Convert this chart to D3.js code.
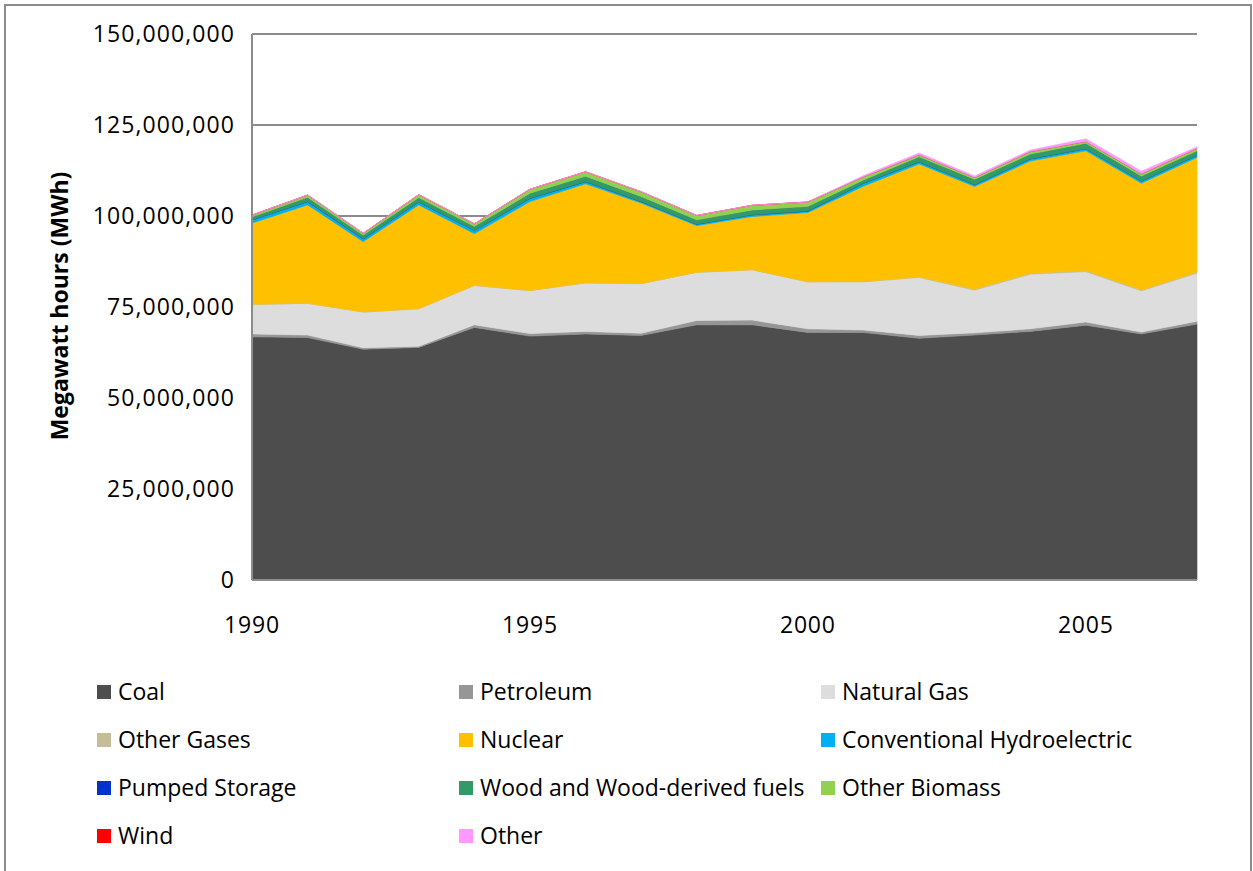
<!DOCTYPE html>
<html>
<head>
<meta charset="utf-8">
<script src="https://cdn.jsdelivr.net/npm/d3@7"></script>
<style>
  html, body { margin: 0; padding: 0; background: #fff; }
  svg { display: block; }
  text { font-family: "Open Sans", "Noto Sans", sans-serif; fill: #000; }
</style>
</head>
<body>
<svg id="chart" width="1253" height="871"></svg>
<script>
// ---- Data (million MWh) ----
const years = [1990,1991,1992,1993,1994,1995,1996,1997,1998,1999,2000,2001,2002,2003,2004,2005,2006,2007];
const coal        = [66.8,66.6,63.4,63.9,69.4,67.0,67.6,67.2,70.1,70.1,68.0,68.0,66.4,67.3,68.3,70.0,67.6,70.3];
const petroleum   = [0.8,0.7,0.4,0.3,0.7,0.7,0.7,0.6,1.2,1.3,1.0,0.7,0.8,0.6,0.7,0.9,0.5,0.8];
const naturalGas  = [8.1,8.7,9.8,10.3,10.8,11.8,13.3,13.6,13.2,13.8,12.9,13.2,15.9,11.7,15.0,13.8,11.3,13.2];
const otherGases  = [0.05,0.05,0.05,0.05,0.05,0.05,0.05,0.05,0.05,0.05,0.05,0.1,0.2,0.3,0.3,0.3,0.3,0.3];
const nuclear     = [22.3,27.0,19.3,28.5,14.2,24.4,27.2,22.1,12.8,14.6,19.0,26.2,31.0,28.2,30.8,32.9,29.3,31.5];
const hydro       = [0.9,0.9,0.8,0.8,0.9,0.9,0.6,0.4,0.4,0.5,0.4,0.8,0.6,0.5,0.6,0.6,0.6,0.6];
const pumped      = [0,0,0,0,0,0,0,0,0,0,0,0,0,0,0,0,0,0];
const wood        = [0.8,1.2,1.0,1.2,1.1,1.4,1.5,1.4,1.2,1.3,1.3,0.9,1.4,1.5,1.3,1.5,1.4,1.2];
const biomass     = [0.5,0.6,0.5,0.8,0.7,1.1,1.2,1.3,1.2,1.3,1.2,0.9,0.5,0.5,0.7,0.5,0.6,0.7];
const wind        = [0,0,0,0,0,0,0,0,0,0,0,0,0,0,0,0,0,0.02];
const other       = [0,0,0,0,0,0,0,0,0,0,0,0.3,0.5,0.4,0.4,0.7,0.7,0.4];

const seriesNames = ["Coal","Petroleum","Natural Gas","Other Gases","Nuclear","Conventional Hydroelectric","Pumped Storage","Wood and Wood-derived fuels","Other Biomass","Wind","Other"];
const seriesValues = [coal,petroleum,naturalGas,otherGases,nuclear,hydro,pumped,wood,biomass,wind,other];
const seriesColors = ["#4d4d4d","#969696","#dddddd","#c4bd97","#ffc000","#00b0f0","#0033cc","#339966","#92d050","#ff0000","#ff99ff"];
const yTicks = [0,25000000,50000000,75000000,100000000,125000000,150000000];
const xTicks = [1990,1995,2000,2005];
const yTitle = "Megawatt hours (MWh)";

// ---- Build table ----
const table = years.map((yr, i) => {
  const row = { year: yr };
  seriesNames.forEach((n, k) => { row[n] = seriesValues[k][i] * 1e6; });
  return row;
});

const svg = d3.select("#chart");
const M = { left: 252, right: 1197, top: 34, bottom: 580 };

const x = d3.scaleLinear().domain([1990, 2007]).range([M.left, M.right]);
const y = d3.scaleLinear().domain([0, 150000000]).range([M.bottom, M.top]);

// outer border
svg.append("rect").attr("x", 5).attr("y", 5).attr("width", 1246).attr("height", 900)
  .attr("fill", "none").attr("stroke", "#8c8c8c").attr("stroke-width", 2);

// gridlines
svg.append("g").selectAll("line").data(yTicks.filter(d => d > 0)).join("line")
  .attr("x1", M.left).attr("x2", M.right)
  .attr("y1", d => y(d)).attr("y2", d => y(d))
  .attr("stroke", "#8c8c8c").attr("stroke-width", 2);

// stacked areas
const stack = d3.stack().keys(seriesNames);
const layers = stack(table);
const area = d3.area()
  .x(d => x(d.data.year))
  .y0(d => y(d[0]))
  .y1(d => y(d[1]));

svg.append("g").selectAll("path").data(layers).join("path")
  .attr("d", area)
  .attr("fill", (d, i) => seriesColors[i])
  .attr("stroke", (d, i) => seriesColors[i])
  .attr("stroke-width", 0.6);

// axes lines
svg.append("line").attr("x1", M.left).attr("x2", M.left).attr("y1", M.top).attr("y2", M.bottom)
  .attr("stroke", "#8c8c8c").attr("stroke-width", 2);
svg.append("line").attr("x1", M.left).attr("x2", M.right).attr("y1", M.bottom).attr("y2", M.bottom)
  .attr("stroke", "#8c8c8c").attr("stroke-width", 2);

// y axis labels
const fmt = d3.format(",");
svg.append("g").selectAll("text").data(yTicks).join("text")
  .attr("x", 235).attr("y", d => y(d)).attr("dy", "0.35em")
  .attr("text-anchor", "end")
  .attr("font-size", 23).attr("letter-spacing", 1.1)
  .text(d => fmt(d));

// x axis labels
svg.append("g").selectAll("text").data(xTicks).join("text")
  .attr("x", d => x(d)).attr("y", 625).attr("dy", "0.35em")
  .attr("text-anchor", "middle")
  .attr("font-size", 23).attr("letter-spacing", 0.8)
  .text(d => d);

// y title
svg.append("text")
  .attr("transform", "translate(60,306) rotate(-90)")
  .attr("text-anchor", "middle").attr("dy", "0.35em")
  .attr("font-size", 23).attr("font-weight", "bold")
  .text(yTitle);

// legend
const colX = [97, 459, 821];
const rowY = [692, 740, 788, 836];
const lg = svg.append("g").selectAll("g").data(seriesNames).join("g")
  .attr("transform", (d, i) => `translate(${colX[i % 3]},${rowY[Math.floor(i / 3)]})`);
lg.append("rect").attr("x", 0).attr("y", -7).attr("width", 14).attr("height", 14)
  .attr("fill", (d, i) => seriesColors[i]);
lg.append("text").attr("x", 21).attr("y", 0).attr("dy", "0.35em")
  .attr("font-size", 23)
  .text(d => d);
</script>
</body>
</html>
